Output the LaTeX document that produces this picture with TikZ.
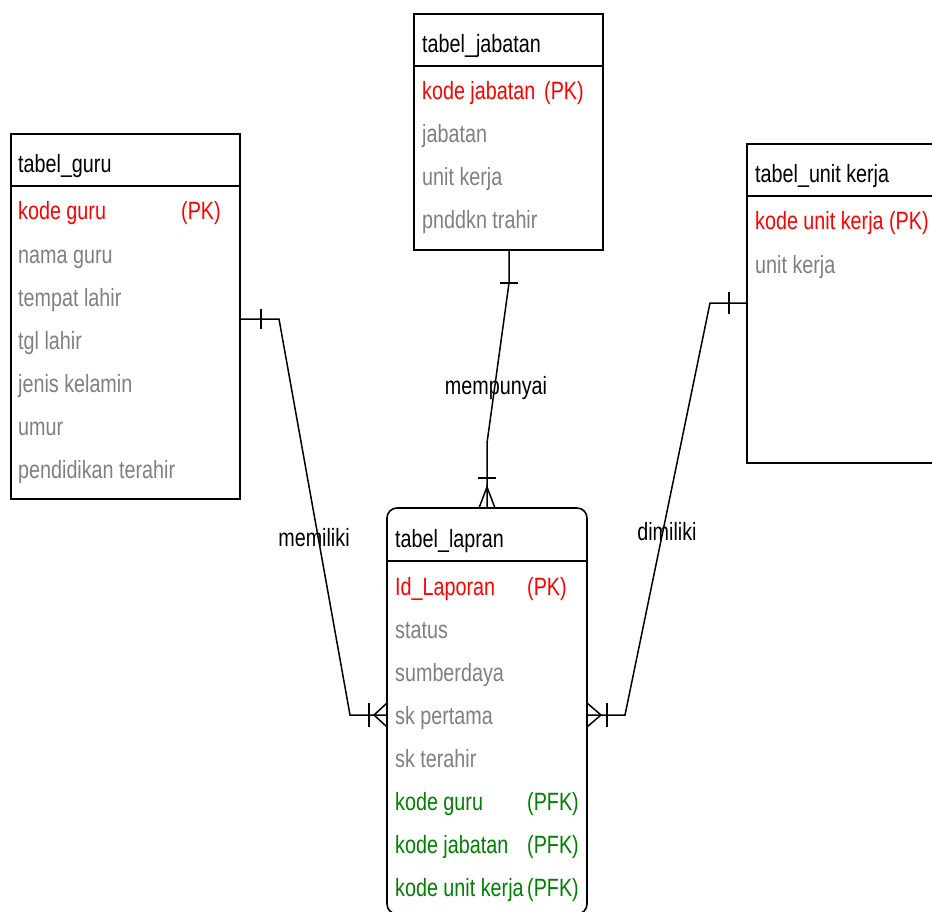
\documentclass[tikz,border=0pt]{standalone}
\usepackage{fontspec}
\setmainfont{Liberation Sans}[FakeStretch=0.79]
\usetikzlibrary{calc}
\definecolor{pkred}{RGB}{255,0,0}
\definecolor{attrgray}{RGB}{128,128,128}
\definecolor{fkgreen}{RGB}{0,128,0}
\begin{document}
\begin{tikzpicture}[x=1pt,y=-1pt,
  tbl/.style={draw, line width=1.6pt, anchor=north west, inner sep=0pt, outer sep=0pt},
  hdr/.style={line width=1.6pt},
  conn/.style={line width=1.5pt},
  ttl/.style={anchor=base west, inner sep=0pt, font=\fontsize{25}{30}\selectfont},
  pk/.style={ttl, text=pkred},
  attr/.style={ttl, text=attrgray},
  fk/.style={ttl, text=fkgreen},
  rel/.style={ttl, anchor=base}]
\useasboundingbox (0,0) rectangle (932,912);
\clip (0,0) rectangle (932,912);
\fill[white] (0,0) rectangle (932,912);

% tables
\node[tbl, minimum width=229pt, minimum height=365pt] (guru) at (11,134) {};
\node[tbl, minimum width=189pt, minimum height=236pt] (jab) at (414,14) {};
\node[tbl, minimum width=200pt, minimum height=319pt] (unit) at (747,144) {};
\node[tbl, rounded corners=10pt, minimum width=200pt, minimum height=406pt] (lap) at (387,508) {};

\draw[hdr] (guru.west |- 0,186) -- (guru.east |- 0,186);
\draw[hdr] (jab.west |- 0,66) -- (jab.east |- 0,66);
\draw[hdr] (unit.west |- 0,196) -- (unit.east |- 0,196);
\draw[hdr] (lap.west |- 0,561) -- (lap.east |- 0,561);

% tabel_guru
\node[ttl] (gt) at (18,173) {tabel\_guru};
\node[pk] (g1) at (18,220) {kode guru};
\node[pk] (g1k) at (181,220) {(PK)};
\node[attr] (g2) at (18,263) {nama guru};
\node[attr] (g3) at (18,306) {tempat lahir};
\node[attr] (g4) at (18,349) {tgl lahir};
\node[attr] (g5) at (18,392) {jenis kelamin};
\node[attr] (g6) at (18,435) {umur};
\node[attr] (g7) at (18,478) {pendidikan terahir};

% tabel_jabatan
\node[ttl] (jt) at (422,53) {tabel\_jabatan};
\node[pk] (j1) at (422,100) {kode jabatan};
\node[pk] (j1k) at (544,100) {(PK)};
\node[attr] (j2) at (422,143) {jabatan};
\node[attr] (j3) at (422,186) {unit kerja};
\node[attr] (j4) at (422,229) {pnddkn trahir};

% tabel_unit kerja
\node[ttl] (ut) at (755,183) {tabel\_unit kerja};
\node[pk] (u1) at (755,230) {kode unit kerja (PK)};
\node[attr] (u2) at (755,273) {unit kerja};

% tabel_lapran
\node[ttl] (lt) at (395,547) {tabel\_lapran};
\node[pk] (l1) at (395,595) {Id\_Laporan};
\node[pk] (l1k) at (527,595) {(PK)};
\node[attr] (l2) at (395,638) {status};
\node[attr] (l3) at (395,681) {sumberdaya};
\node[attr] (l4) at (395,724) {sk pertama};
\node[attr] (l5) at (395,767) {sk terahir};
\node[fk] (l6) at (395,810) {kode guru};
\node[fk] (l6k) at (527,810) {(PFK)};
\node[fk] (l7) at (395,853) {kode jabatan};
\node[fk] (l7k) at (527,853) {(PFK)};
\node[fk] (l8) at (395,896) {kode unit kerja};
\node[fk] (l8k) at (527,896) {(PFK)};

% relationship: guru - lapran (memiliki)
\coordinate (gb1) at (279,319);
\coordinate (gb2) at (350,715);
\coordinate (gf) at (374,715);
\draw[conn] (guru.east |- gb1) -- (gb1) -- (gb2) -- (lap.west |- gb2);
\draw[conn] ($(guru.east |- gb1)+(21,-10)$) -- ++(0,20);
\draw[conn] (369,703) -- (369,727);
\draw[conn] (lap.west |- 0,703) -- (gf) -- (lap.west |- 0,727);
\node[rel] (rm) at (314,546) {memiliki};

% relationship: jabatan - lapran (mempunyai)
\coordinate (jb1) at (509,283);
\coordinate (jb2) at (487,443);
\coordinate (jf) at (487,487);
\draw[conn] (jab.south -| jb1) -- (jb1) -- (jb2) -- (lap.north -| jb2);
\draw[conn] ($(jb1)+(-9,0)$) -- ++(18,0);
\draw[conn] (478,478) -- (496,478);
\draw[conn] (lap.north -| 479,0) -- (jf) -- (lap.north -| 495,0);
\node[rel] (rp) at (496,394) {mempunyai};

% relationship: unit kerja - lapran (dimiliki)
\coordinate (ub1) at (710,303);
\coordinate (ub2) at (625,715);
\coordinate (uf) at (601,715);
\draw[conn] (unit.west |- ub1) -- (ub1) -- (ub2) -- (lap.east |- ub2);
\draw[conn] ($(unit.west |- ub1)+(-18,-11)$) -- ++(0,22);
\draw[conn] (607,703) -- (607,727);
\draw[conn] (lap.east |- 0,703) -- (uf) -- (lap.east |- 0,727);
\node[rel] (rd) at (667,540) {dimiliki};
\end{tikzpicture}
\end{document}
